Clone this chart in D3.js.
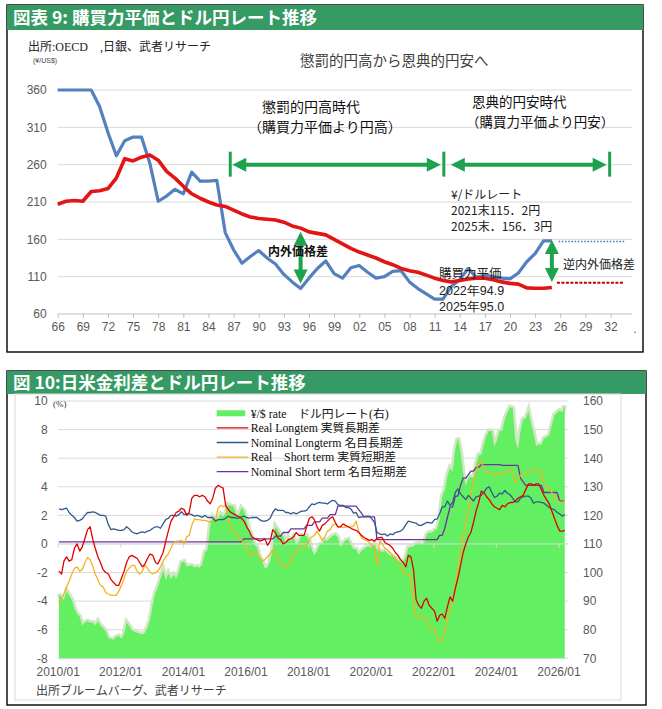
<!DOCTYPE html>
<html>
<head>
<meta charset="utf-8">
<script src="https://cdn.jsdelivr.net/npm/d3@7"></script>
<style>
  body { margin: 0; background: #fff; }
  svg { display: block; }
</style>
</head>
<body>
<div id="chart"></div>
<script>
// ---- chart 9: PPP vs market rate (yearly, 1966-2025) ----
const pppStart = 1966;
const marketRate = [360, 360, 360, 360, 360, 338, 303, 272, 292, 297,
  297, 262, 211, 218, 227, 221, 250, 238, 238, 239,
  169, 146, 128, 137, 145, 135, 127, 113, 103, 94,
  108, 121, 131, 114, 108, 122, 125, 116, 108, 110,
  117, 118, 103, 94, 87, 80, 80, 97, 106, 121,
  109, 112, 110, 108, 107, 115, 130, 141, 158, 158];
const pppRate = [207, 211, 212, 211, 224, 225, 228, 242, 268, 265,
  270, 273, 266, 251, 242, 231, 221, 215, 210, 206,
  204, 199, 194, 190, 188, 187, 186, 183, 178, 175,
  170, 168, 166, 160, 154, 148, 143, 139, 135, 130,
  126, 121, 118, 116, 112, 108, 105, 103, 105, 107,
  108, 108, 106, 103, 101, 100, 95, 94.5, 94.5, 95.5];
const pppYTicks = [60, 110, 160, 210, 260, 310, 360];
const pppXTicks = d3.range(1966, 2033, 3);

// ---- chart 10: rate differentials and USD/JPY (monthly, 2010/01-2026/03) ----
const usdJpy = [
  92.5, 91, 90.5, 93.5, 92, 90.5, 87.5, 85.5, 84.5, 81.5, 82.5, 83,
  82.5, 82.5, 81.5, 83, 81.5, 80.5, 79.5, 77, 76.8, 76.5, 77.5, 77.8,
  76.9, 78.5, 82.5, 81.3, 79.7, 79.3, 78.9, 78.7, 78.2, 78.9, 80.9, 83.6,
  89, 93, 94.8, 97.8, 100.9, 97.3, 99.7, 97.8, 99.2, 97.8, 100.1, 103.5,
  103.9, 102.1, 102.3, 102.5, 101.8, 102.1, 101.7, 102.9, 107.1, 108, 116.3, 119.4,
  118.3, 118.8, 120.4, 119.5, 120.8, 123.7, 123.3, 123.2, 120.2, 120.1, 122.6, 121.6,
  118.2, 114.7, 112.9, 109.6, 108.9, 105.4, 104.1, 101.3, 101.9, 103.8, 108.6, 116.1,
  114.8, 113.1, 112.9, 110.1, 112.2, 110.9, 112.4, 109.8, 110.8, 112.9, 112.8, 112.9,
  110.9, 107.9, 106.1, 107.6, 109.7, 110.1, 111.5, 111.1, 112.1, 112.8, 113.2, 112.2,
  108.9, 110.4, 111.2, 111.6, 109.8, 108.1, 108.2, 106.2, 107.5, 108.2, 108.9, 109.1,
  109.3, 110, 107.8, 107.7, 107.2, 107.6, 106.7, 106, 105.6, 105.2, 104.4, 103.7,
  103.8, 105.4, 108.7, 108.9, 109.1, 110.1, 110.2, 109.8, 110.2, 113.1, 114, 113.8,
  114.8, 115.2, 118.5, 126.5, 128.8, 133.8, 136.6, 135.3, 143.1, 147.1, 142.2, 134.8,
  130.4, 133, 133.5, 133.3, 137.6, 141.2, 141.2, 144.9, 147.9, 149.6, 149.5, 144.1,
  146.3, 149.6, 149.7, 153.6, 155.9, 157.8, 157.5, 146.3, 143.1, 149.7, 153.7, 153.8,
  156.5, 152, 149.1, 144.2, 144.8, 144.6, 146.9, 147.4, 147.9, 151.5, 155.1, 155.9,
  156.7, 156, 158.5];
const realLong = [
  -1.9, -2.1, -1.2, -0.9, -1.2, -1.1, -0.3, 0.0, -0.5, -0.2, 0.4, 1.0,
  1.2, 0.3, -0.3, -0.9, -1.3, -1.8, -2.0, -2.1, -2.5, -2.7, -2.9, -2.9,
  -2.4, -1.9, -1.3, -0.9, -0.8, -0.9, -1.0, -1.3, -1.6, -1.4, -1.0, -0.7,
  -0.8, -1.3, -1.4, -1.0, -0.6, 0.2, 0.9, 1.6, 1.9, 2.2, 2.3, 2.5,
  2.4, 2.0, 2.2, 3.2, 3.4, 3.4, 3.3, 3.4, 3.3, 3.0, 2.8, 3.2,
  3.9, 4.1, 4.0, 3.9, 2.7, 2.4, 2.2, 2.1, 2.0, 1.9, 1.8, 1.6,
  1.2, 0.9, 0.5, 0.4, 0.3, 0.2, 0.25, 0.35, -0.1, 0.2, 1.0, 0.8,
  0.4, 0.3, 0.0, 0.1, 0.3, 0.35, 0.5, 0.8, 0.6, 0.6, 0.6, 1.2,
  1.8, 1.9, 1.7, 1.2, 0.9, 1.3, 1.4, 1.6, 1.8, 1.9, 1.5, 1.2,
  1.2, 1.4, 1.3, 1.2, 1.1, 1.0, 0.95, 0.8, 0.6, 0.45, 0.35, 0.25,
  0.3, 0.2, 0.4, 0.45, 0.45, 0.1, 0.0, -0.1, -0.3, -0.6, -0.8, -1.1,
  -1.3, -1.6, -0.8, -0.9, -1.8, -3.9, -4.3, -4.5, -4.0, -3.8, -4.3, -4.5,
  -4.7, -5.4, -5.0, -4.9, -5.2, -4.4, -3.7, -4.0, -3.1, -2.4, -1.5, -0.6,
  0.0, 0.5, 0.8, 1.5, 2.3, 2.9, 3.7, 3.6, 3.3, 3.1, 2.8, 2.6,
  2.5, 2.4, 2.7, 2.6, 2.8, 2.9, 2.9, 3.0, 3.2, 3.3, 3.4, 3.8,
  4.2, 4.2, 4.1, 4.2, 4.2, 3.8, 3.4, 3.1, 2.8, 2.3, 1.8, 1.3,
  0.9, 0.9, 0.95];
const nominalLong = [
  2.45, 2.4, 2.45, 2.5, 2.2, 2.0, 1.85, 1.6, 1.65, 1.75, 2.0, 2.2,
  2.2, 2.25, 2.2, 2.1, 2.0, 2.0, 1.95, 1.35, 1.0, 1.05, 1.0, 0.95,
  0.95, 1.0, 1.2, 1.05, 0.85, 0.75, 0.7, 0.8, 0.85, 0.8, 0.9, 0.95,
  1.1, 1.2, 1.2, 1.1, 1.4, 1.7, 1.8, 2.0, 2.0, 1.95, 2.05, 2.25,
  2.05, 2.1, 2.1, 2.05, 1.95, 2.0, 1.95, 1.85, 2.0, 1.85, 1.85, 1.85,
  1.6, 1.7, 1.7, 1.7, 1.8, 1.95, 1.85, 1.85, 1.8, 1.8, 1.9, 1.95,
  1.85, 1.8, 1.85, 1.85, 1.85, 1.7, 1.6, 1.6, 1.65, 1.8, 2.2, 2.45,
  2.35, 2.35, 2.35, 2.2, 2.2, 2.1, 2.2, 2.1, 2.2, 2.3, 2.3, 2.35,
  2.6, 2.8, 2.75, 2.85, 2.9, 2.85, 2.85, 2.8, 2.95, 3.05, 3.0, 2.75,
  2.7, 2.7, 2.55, 2.55, 2.45, 2.15, 2.2, 1.85, 1.9, 1.9, 1.95, 1.95,
  1.75, 1.5, 0.8, 0.7, 0.65, 0.7, 0.55, 0.7, 0.65, 0.8, 0.85, 0.9,
  1.05, 1.35, 1.6, 1.55, 1.5, 1.45, 1.3, 1.3, 1.4, 1.5, 1.5, 1.45,
  1.7, 1.75, 2.1, 2.6, 2.6, 3.0, 2.7, 2.9, 3.6, 3.85, 3.5, 3.3,
  3.1, 3.4, 3.2, 3.0, 3.3, 3.35, 3.4, 3.6, 3.9, 4.0, 3.6, 3.25,
  3.35, 3.55, 3.5, 3.75, 3.55, 3.45, 3.2, 2.95, 2.95, 3.2, 3.3, 3.35,
  3.35, 3.2, 2.85, 2.95, 2.95, 2.9, 2.85, 2.7, 2.55, 2.45, 2.4, 2.2,
  2.1, 1.95, 2.05];
const realShort = [
  -4.2, -3.8, -3.5, -3.0, -2.6, -2.1, -1.7, -1.6, -1.9, -1.8, -1.3, -0.95,
  -1.1, -1.6, -2.1, -2.5, -2.9, -3.0, -3.4, -3.5, -3.6, -3.6, -3.6, -3.3,
  -2.9, -2.4, -1.9, -1.7, -1.5, -1.5, -1.9, -2.1, -1.9, -1.5, -1.7, -2.0,
  -2.1, -2.0, -1.9, -1.6, -1.2, -0.9, -0.7, -0.3, 0.1, 0.2, 0.2, 0.25,
  0.0, 0.5, 0.6, 1.3, 1.75, 1.7, 1.7, 1.65, 1.65, 1.6, 1.5, 1.65,
  1.6, 2.5, 2.7, 2.6, 2.7, 1.8, 1.1, 0.9, 0.7, 0.4, 0.3, 0.1,
  -0.2, -0.8, -0.7, -0.6, -0.6, -0.9, -1.2, -1.1, -0.9, -0.7, -0.4, -0.5,
  -1.1, -1.4, -1.5, -1.6, -1.4, -1.0, -0.8, -0.5, -0.25, -0.2, -0.2, -0.1,
  0.3, 0.5, 0.6, 0.9, 0.6, 0.25, 0.5, 0.9, 1.0, 1.3, 1.4, 1.2,
  1.2, 1.15, 1.2, 1.2, 1.2, 1.25, 1.6, 0.9, 0.45, 0.3, 0.25, 0.1,
  -0.1, -0.3, -1.5, 0.2, 0.0, -0.3, -0.4, -0.6, -0.8, -1.0, -1.3, -1.5,
  -2.0, -2.1, -2.1, -2.4, -4.2, -5.1, -5.2, -5.1, -5.1, -5.2, -5.8, -6.0,
  -5.9, -6.5, -6.8, -6.8, -6.2, -5.2, -4.6, -4.0, -2.9, -1.9, -0.7, 0.5,
  1.4, 2.4, 3.3, 4.3, 5.0, 5.7, 5.8, 5.3, 5.0, 5.0, 4.9, 4.8,
  4.9, 4.9, 4.8, 5.0, 5.1, 5.2, 5.0, 4.3, 4.5, 4.8, 4.9, 4.9,
  5.0, 5.1, 5.2, 5.15, 5.1, 5.0, 4.3, 4.0, 3.8, 3.6, 3.3, 3.1,
  2.95, 2.9, 3.0];
const nominalShort = [
  0.15, 0.15, 0.15, 0.15, 0.15, 0.15, 0.15, 0.15, 0.15, 0.15, 0.15, 0.15,
  0.15, 0.15, 0.15, 0.15, 0.15, 0.15, 0.15, 0.15, 0.15, 0.15, 0.15, 0.15,
  0.15, 0.15, 0.15, 0.15, 0.15, 0.15, 0.15, 0.15, 0.15, 0.15, 0.15, 0.15,
  0.15, 0.15, 0.15, 0.15, 0.15, 0.15, 0.15, 0.15, 0.15, 0.15, 0.15, 0.15,
  0.15, 0.15, 0.15, 0.15, 0.15, 0.15, 0.15, 0.15, 0.15, 0.15, 0.15, 0.15,
  0.15, 0.15, 0.15, 0.15, 0.15, 0.15, 0.15, 0.15, 0.15, 0.15, 0.15, 0.35,
  0.35, 0.35, 0.35, 0.35, 0.35, 0.35, 0.35, 0.35, 0.35, 0.35, 0.35, 0.55,
  0.55, 0.55, 0.8, 0.8, 0.8, 1.05, 1.05, 1.05, 1.05, 1.05, 1.05, 1.3,
  1.3, 1.3, 1.55, 1.55, 1.55, 1.8, 1.8, 1.8, 2.05, 2.05, 2.05, 2.65,
  2.65, 2.65, 2.65, 2.65, 2.65, 2.65, 2.65, 2.4, 2.15, 1.9, 1.9, 1.9,
  1.9, 1.9, 0.3, 0.3, 0.3, 0.3, 0.3, 0.3, 0.3, 0.3, 0.3, 0.3,
  0.3, 0.3, 0.3, 0.3, 0.3, 0.3, 0.3, 0.3, 0.3, 0.3, 0.3, 0.3,
  0.3, 0.3, 0.6, 0.6, 1.1, 1.85, 2.6, 2.6, 3.35, 3.35, 4.1, 4.6,
  4.6, 4.85, 5.1, 5.1, 5.35, 5.35, 5.55, 5.55, 5.55, 5.55, 5.55, 5.55,
  5.55, 5.55, 5.5, 5.5, 5.5, 5.5, 5.5, 5.5, 5.5, 4.6, 4.35, 4.1,
  4.1, 4.1, 4.1, 4.1, 4.1, 4.1, 3.6, 3.6, 3.6, 3.6, 3.6, 3.6,
  3.0, 3.0, 3.0];
const leftTicks = [-8, -6, -4, -2, 0, 2, 4, 6, 8, 10];
const rightTicks = [70, 80, 90, 100, 110, 120, 130, 140, 150, 160];
const dateTicks = ['2010/01', '2012/01', '2014/01', '2016/01', '2018/01', '2020/01', '2022/01', '2024/01', '2026/01'];

const JP = '"Noto Sans CJK JP", sans-serif';
const NUM = '"Liberation Sans", Arial, sans-serif';
const SERIF = '"Liberation Serif", "Noto Sans CJK JP", serif';
const GREEN_ARROW = '#1fa24d';

const svg = d3.select('#chart').append('svg')
  .attr('width', 662)
  .attr('height', 709);

function panel(x0, y0, x1, y1, hy, title) {
  svg.append('rect')
    .attr('x', x0).attr('y', y0).attr('width', x1 - x0).attr('height', y1 - y0)
    .attr('fill', '#fff').attr('stroke', '#000').attr('stroke-width', 1.4);
  svg.append('rect')
    .attr('x', x0).attr('y', y0).attr('width', x1 - x0).attr('height', hy - y0)
    .attr('fill', '#359a63');
  svg.append('text')
    .attr('x', x0 + 6).attr('y', (y0 + hy) / 2 + 6.5)
    .attr('fill', '#fff').attr('font-family', JP).attr('font-weight', 700)
    .attr('font-size', 17.5).text(title);
}

function label(x, y, txt, size, opts = {}) {
  return svg.append('text')
    .attr('x', x).attr('y', y)
    .attr('font-family', opts.family || JP)
    .attr('font-size', size)
    .attr('font-weight', opts.weight || 400)
    .attr('fill', opts.color || '#333')
    .attr('text-anchor', opts.anchor || 'start')
    .text(txt);
}

// arrowhead whose tip is at (x, y), pointing along (dx, dy)
function head(g, x, y, dx, dy) {
  const len = 14, half = 7;
  const bx = x - dx * len, by = y - dy * len;
  g.append('polygon')
    .attr('points', [[x, y], [bx - dy * half, by + dx * half], [bx + dy * half, by - dx * half]].join(' '))
    .attr('fill', GREEN_ARROW);
}

function hArrow(g, x1, x2, y) {
  g.append('line').attr('x1', x1 + 10).attr('x2', x2 - 10).attr('y1', y).attr('y2', y)
    .attr('stroke', GREEN_ARROW).attr('stroke-width', 4);
  head(g, x1, y, -1, 0);
  head(g, x2, y, 1, 0);
}

function vArrow(g, x, y1, y2) {
  g.append('line').attr('x1', x).attr('x2', x).attr('y1', y1 + 10).attr('y2', y2 - 10)
    .attr('stroke', GREEN_ARROW).attr('stroke-width', 4);
  head(g, x, y1, 0, -1);
  head(g, x, y2, 0, 1);
}

function bar(g, x, y) {
  g.append('line').attr('x1', x).attr('x2', x).attr('y1', y - 13).attr('y2', y + 12)
    .attr('stroke', GREEN_ARROW).attr('stroke-width', 3);
}

// ================= top chart =================
panel(7, 5, 643, 352, 30, '図表 9: 購買力平価とドル円レート推移');

const xT = d3.scaleLinear().domain([1966, 2032]).range([57.7, 610.5]);
const yT = d3.scaleLinear().domain([60, 360]).range([314, 90]);
const years = marketRate.map((_, i) => pppStart + i);

const topG = svg.append('g');

topG.append('g').selectAll('line')
  .data(pppYTicks)
  .enter().append('line')
  .attr('x1', 57.7).attr('x2', 632)
  .attr('y1', d => yT(d)).attr('y2', d => yT(d))
  .attr('stroke', d => d === 60 ? '#bfbfbf' : '#d9d9d9')
  .attr('stroke-width', 1);

const xAxisT = topG.append('g')
  .attr('transform', `translate(0,${yT(60)})`)
  .call(d3.axisBottom(xT).tickValues(pppXTicks).tickSize(4).tickPadding(4)
    .tickFormat(d => String(d % 100).padStart(2, '0')));
xAxisT.select('.domain').remove();
xAxisT.selectAll('line').attr('stroke', '#bfbfbf');
xAxisT.selectAll('text').attr('font-family', NUM).attr('font-size', 12).attr('fill', '#595959');
label(635, 333, '.', 12, {family: NUM, color: '#595959', anchor: 'middle'});

const yAxisT = topG.append('g')
  .attr('transform', 'translate(57.7,0)')
  .call(d3.axisLeft(yT).tickValues(pppYTicks).tickSize(0).tickPadding(11));
yAxisT.select('.domain').remove();
yAxisT.selectAll('text').attr('font-family', NUM).attr('font-size', 12).attr('fill', '#595959');

const lineT = d3.line().x((d, i) => xT(years[i])).y(d => yT(d));
topG.append('path').datum(marketRate)
  .attr('d', lineT).attr('fill', 'none')
  .attr('stroke', '#5580be').attr('stroke-width', 3.2).attr('stroke-linejoin', 'round');
topG.append('path').datum(pppRate)
  .attr('d', lineT).attr('fill', 'none')
  .attr('stroke', '#e31414').attr('stroke-width', 3.6).attr('stroke-linejoin', 'round');

// projection guides
topG.append('line')
  .attr('x1', xT(2025.8)).attr('x2', xT(2033.8)).attr('y1', yT(157)).attr('y2', yT(157))
  .attr('stroke', '#4f7fc0').attr('stroke-width', 1.6).attr('stroke-dasharray', '1.6,1.6');
topG.append('line')
  .attr('x1', xT(2025.6)).attr('x2', xT(2033.6)).attr('y1', yT(102)).attr('y2', yT(102))
  .attr('stroke', '#c00000').attr('stroke-width', 2).attr('stroke-dasharray', '3,1.5');

// era arrows
const arrows = topG.append('g');
bar(arrows, xT(1986.6), yT(260));
bar(arrows, xT(2012.1), yT(260));
bar(arrows, xT(2031.9), yT(260));
hArrow(arrows, xT(1986.6) + 2, xT(2012.1) - 3, yT(260));
hArrow(arrows, xT(2012.1) + 7, xT(2031.9) - 3, yT(260));
vArrow(arrows, xT(1995), yT(170), yT(101));
vArrow(arrows, xT(2025), yT(159), yT(103));

label(28, 51, '出所:OECD　,日銀、武者リサーチ', 12, {family: SERIF, color: '#222'});
label(33, 63, '(¥/US$)', 7, {family: NUM, color: '#444'});
label(300, 66, '懲罰的円高から恩典的円安へ', 14.5, {color: '#404040'});
label(262, 112, '懲罰的円高時代', 14, {color: '#111'});
label(248, 132, '（購買力平価より円高）', 14, {color: '#111'});
label(472, 107, '恩典的円安時代', 13.5, {color: '#111'});
label(466, 127, '（購買力平価より円安）', 13.5, {color: '#111'});
label(298, 256, '内外価格差', 12, {weight: 700, color: '#111', anchor: 'middle'});
label(563, 269, '逆内外価格差', 12, {color: '#222'});
label(451, 199, '¥/ドルレート', 12, {color: '#222'});
label(451, 215, '2021末115．2円', 12, {color: '#222'});
label(451, 231, '2025末．156．3円', 12, {color: '#222'});
label(439, 278, '購買力平価', 12.5, {color: '#222'});
label(439, 295, '2022年94.9', 12.5, {family: NUM, color: '#222'});
label(439, 311, '2025年95.0', 12.5, {family: NUM, color: '#222'});

// ================= bottom chart =================
panel(7, 371, 646, 705, 394, '図 10:日米金利差とドル円レート推移');
svg.append('rect')
  .attr('x', 15).attr('y', 394).attr('width', 606).attr('height', 306)
  .attr('fill', 'none').attr('stroke', '#d9d9d9').attr('stroke-width', 1);

const months = usdJpy.map((_, i) => new Date(2010, i, 15));
const xB = d3.scaleTime().domain([new Date(2010, 0, 1), new Date(2026, 0, 1)]).range([57.7, 558.5]);
const yL = d3.scaleLinear().domain([-8, 10]).range([658.3, 401]);
const yR = d3.scaleLinear().domain([70, 160]).range([658.3, 401]);

const botG = svg.append('g');

botG.append('g').selectAll('line')
  .data(leftTicks)
  .enter().append('line')
  .attr('x1', 57.7).attr('x2', 568)
  .attr('y1', d => yL(d)).attr('y2', d => yL(d))
  .attr('stroke', '#d9d9d9').attr('stroke-width', 1);

// yen rate area with a pale fringe on its top edge
const rateTop = d3.line().x((d, i) => xB(months[i])).y(d => yR(d));
botG.append('path').datum(usdJpy)
  .attr('d', rateTop).attr('fill', 'none')
  .attr('stroke', '#d3e6c6').attr('stroke-width', 5);
botG.append('path').datum(usdJpy)
  .attr('d', d3.area().x((d, i) => xB(months[i])).y0(yR(70)).y1(d => yR(d)))
  .attr('fill', '#62f062');

// zero axis over the area
botG.append('line')
  .attr('x1', 57.7).attr('x2', 568).attr('y1', yL(0)).attr('y2', yL(0))
  .attr('stroke', '#d9d9d9').attr('stroke-width', 1);
const zeroAxis = botG.append('g')
  .attr('transform', `translate(0,${yL(0)})`)
  .call(d3.axisBottom(xB).tickValues(dateTicks.map(d3.timeParse('%Y/%m'))).tickSize(4).tickFormat(''));
zeroAxis.select('.domain').remove();
zeroAxis.selectAll('line').attr('stroke', '#d9d9d9');

const series = [
  {name: 'Nominal Short term 名目短期差', values: nominalShort, color: '#7030a0'},
  {name: 'Real　Short term 実質短期差', values: realShort, color: '#f4b324'},
  {name: 'Nominal Longterm 名目長期差', values: nominalLong, color: '#2f5a8c'},
  {name: 'Real Longtem 実質長期差', values: realLong, color: '#e00000'}
];
const lineB = d3.line().x((d, i) => xB(months[i])).y(d => yL(d));
botG.append('g').selectAll('path')
  .data(series)
  .enter().append('path')
  .attr('d', d => lineB(d.values))
  .attr('fill', 'none')
  .attr('stroke', d => d.color)
  .attr('stroke-width', 1.3)
  .attr('stroke-linejoin', 'round');

const xAxisB = botG.append('g')
  .attr('transform', `translate(0,${yL(-8)})`)
  .call(d3.axisBottom(xB).tickValues(dateTicks.map(d3.timeParse('%Y/%m')))
    .tickSize(0).tickPadding(9).tickFormat(d3.timeFormat('%Y/%m')));
xAxisB.select('.domain').attr('stroke', '#d9d9d9');
xAxisB.selectAll('text').attr('font-family', NUM).attr('font-size', 12).attr('fill', '#595959');

const yAxisL = botG.append('g')
  .attr('transform', 'translate(57.7,0)')
  .call(d3.axisLeft(yL).tickValues(leftTicks).tickSize(0).tickPadding(10).tickFormat(d => String(d)));
yAxisL.select('.domain').remove();
yAxisL.selectAll('text').attr('font-family', NUM).attr('font-size', 12).attr('fill', '#595959');

const yAxisR = botG.append('g')
  .attr('transform', 'translate(571,0)')
  .call(d3.axisRight(yR).tickValues(rightTicks).tickSize(0).tickPadding(12));
yAxisR.select('.domain').remove();
yAxisR.selectAll('text').attr('font-family', NUM).attr('font-size', 12).attr('fill', '#595959');

label(53, 407, '(%)', 9, {family: SERIF, color: '#333'});

// legend
const legendItems = [
  {name: '¥/$ rate　ドル円レート(右)', color: '#62f062', area: true},
  series[3], series[2], series[1], series[0]
];
const legend = botG.append('g');
legendItems.forEach((d, i) => {
  const y = 413.3 + i * 14.6;
  if (d.area) {
    legend.append('rect').attr('x', 216.7).attr('y', y - 3).attr('width', 28.5).attr('height', 6)
      .attr('fill', d.color);
  } else {
    legend.append('line').attr('x1', 216.7).attr('x2', 248.3).attr('y1', y).attr('y2', y)
      .attr('stroke', d.color).attr('stroke-width', 1.3);
  }
  legend.append('text')
    .attr('x', 250.7).attr('y', y + 4.3)
    .attr('font-family', SERIF).attr('font-size', 11.8).attr('fill', '#111')
    .text(d.name);
});

label(36, 695, '出所ブルームバーグ、武者リサーチ', 12, {color: '#404040'});
</script>
</body>
</html>
